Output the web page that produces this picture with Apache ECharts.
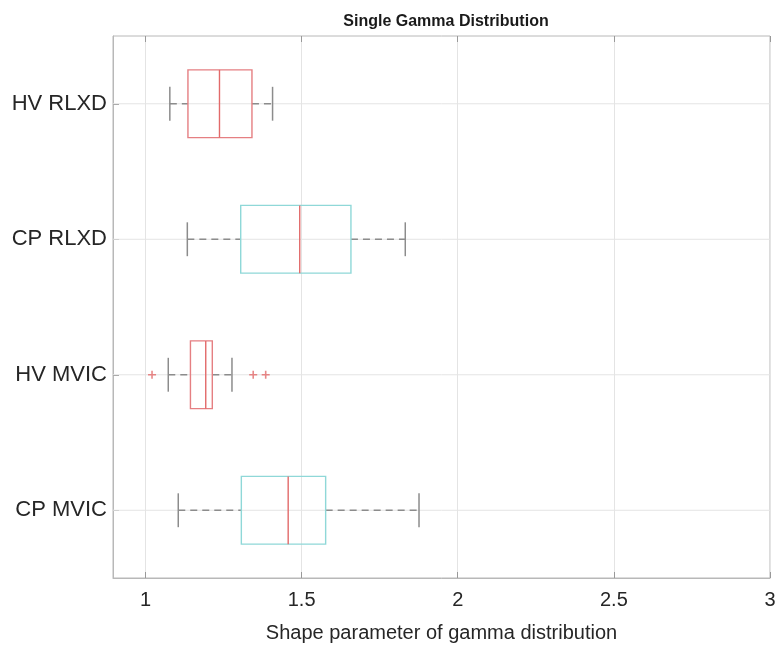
<!DOCTYPE html>
<html>
<head>
<meta charset="utf-8">
<script src="https://cdn.jsdelivr.net/npm/echarts@6/dist/echarts.min.js"></script>
<style>html,body{margin:0;padding:0;background:#fff}#c{width:778px;height:646px}</style>
</head>
<body>
<div id="c"></div>
<script>
const categories = ['HV RLXD', 'CP RLXD', 'HV MVIC', 'CP MVIC'];
const lowWhisker = [1.078, 1.134, 1.073, 1.105];
const q1 = [1.136, 1.305, 1.144, 1.307];
const median = [1.237, 1.494, 1.193, 1.457];
const q3 = [1.341, 1.658, 1.214, 1.577];
const highWhisker = [1.407, 1.832, 1.277, 1.876];
const outlierValues = [1.021, 1.345, 1.385];
const outlierCategory = ['HV MVIC', 'HV MVIC', 'HV MVIC'];
const xTicks = [1, 1.5, 2, 2.5, 3];

const FONT = 'Liberation Sans';
const RED = '#e57f82';
const CYAN = '#8fd8d8';
const MED = '#e26a6a';
const WHISK = '#8c8c8c';
const GRID = '#e4e4e4';

const boxData = categories.map((c, i) => [i, lowWhisker[i], q1[i], median[i], q3[i], highWhisker[i], c.startsWith('HV') ? 0 : 1]);
const outlierData = outlierValues.map((v, i) => [v, categories.indexOf(outlierCategory[i])]);

function renderBox(params, api) {
  const cat = api.value(0);
  const band = api.size([0, 1])[1];
  const halfBox = band * 0.25;
  const halfCap = band * 0.125;
  const pLow = api.coord([api.value(1), cat]);
  const pQ1 = api.coord([api.value(2), cat]);
  const pMed = api.coord([api.value(3), cat]);
  const pQ3 = api.coord([api.value(4), cat]);
  const pHigh = api.coord([api.value(5), cat]);
  const cs = params.coordSys;
  const cy = pMed[1];
  const col = api.value(6) === 0 ? RED : CYAN;
  return {
    type: 'group',
    children: [
      {type: 'line', shape: {x1: cs.x, y1: cy, x2: cs.x + cs.width, y2: cy}, style: {stroke: GRID, lineWidth: 1}, z2: 0},
      {type: 'line', shape: {x1: pLow[0], y1: cy, x2: pQ1[0], y2: cy}, style: {stroke: WHISK, lineWidth: 1.5, lineDash: [7, 5]}, z2: 1},
      {type: 'line', shape: {x1: pQ3[0], y1: cy, x2: pHigh[0], y2: cy}, style: {stroke: WHISK, lineWidth: 1.5, lineDash: [7, 5]}, z2: 1},
      {type: 'line', shape: {x1: pLow[0], y1: cy - halfCap, x2: pLow[0], y2: cy + halfCap}, style: {stroke: WHISK, lineWidth: 1.5}, z2: 1},
      {type: 'line', shape: {x1: pHigh[0], y1: cy - halfCap, x2: pHigh[0], y2: cy + halfCap}, style: {stroke: WHISK, lineWidth: 1.5}, z2: 1},
      {type: 'rect', shape: {x: pQ1[0], y: cy - halfBox, width: pQ3[0] - pQ1[0], height: halfBox * 2}, style: {fill: 'none', stroke: col, lineWidth: 1.4}, z2: 2},
      {type: 'line', shape: {x1: pMed[0], y1: cy - halfBox, x2: pMed[0], y2: cy + halfBox}, style: {stroke: MED, lineWidth: 1.4}, z2: 3}
    ]
  };
}

const chart = echarts.init(document.getElementById('c'), null, {renderer: 'canvas'});
chart.setOption({
  animation: false,
  backgroundColor: '#fff',
  title: {
    text: 'Single Gamma Distribution',
    left: 441, top: 9, textAlign: 'center',
    textStyle: {fontFamily: FONT, fontSize: 16, fontWeight: 'bold', color: '#1a1a1a'}
  },
  grid: {left: 113, right: 8, top: 36, bottom: 68, show: true, borderColor: '#b8b8b8', borderWidth: 1, outerBoundsMode: 'none'},
  xAxis: [{
    type: 'value', min: 0.896, max: 3, position: 'bottom',
    name: 'Shape parameter of gamma distribution', nameLocation: 'middle', nameGap: 45,
    nameTextStyle: {fontFamily: FONT, fontSize: 20, color: '#262626'},
    axisLine: {show: true, lineStyle: {color: '#b8b8b8'}},
    axisTick: {show: true, inside: true, length: 6, customValues: xTicks, lineStyle: {color: '#999'}},
    axisLabel: {fontFamily: FONT, fontSize: 20, color: '#262626', margin: 12, customValues: xTicks},
    splitLine: {show: true, lineStyle: {color: GRID, width: 1}}
  }, {
    type: 'value', min: 0.896, max: 3, position: 'top',
    axisLine: {show: false},
    axisTick: {show: true, inside: true, length: 6, customValues: xTicks, lineStyle: {color: '#999'}},
    axisLabel: {show: false},
    splitLine: {show: false}
  }],
  yAxis: {
    type: 'category', data: categories, inverse: true,
    axisLine: {show: true, lineStyle: {color: '#b8b8b8'}},
    axisTick: {show: true, inside: true, length: 6, alignWithLabel: true, lineStyle: {color: '#999'}},
    axisLabel: {fontFamily: FONT, fontSize: 22, color: '#262626', margin: 6},
    splitLine: {show: false}
  },
  series: [{
    type: 'custom', renderItem: renderBox, data: boxData,
    encode: {x: [1, 2, 3, 4, 5], y: 0}, xAxisIndex: 0, yAxisIndex: 0
  }, {
    type: 'scatter', data: outlierData, xAxisIndex: 0, yAxisIndex: 0,
    symbol: 'path://M4,0 L6,0 L6,4 L10,4 L10,6 L6,6 L6,10 L4,10 L4,6 L0,6 L0,4 L4,4 Z',
    symbolSize: 8, itemStyle: {color: MED}, z: 5
  }]
});
</script>
</body>
</html>
